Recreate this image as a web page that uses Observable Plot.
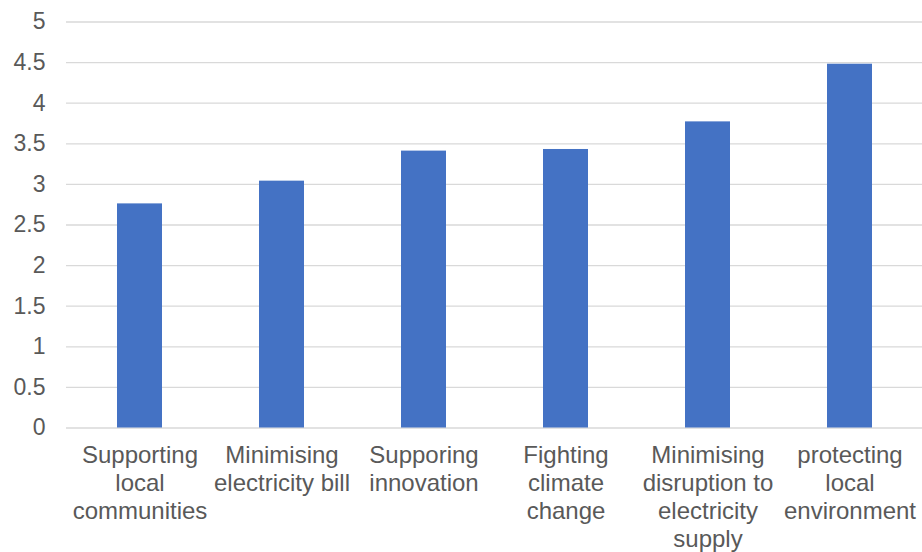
<!DOCTYPE html>
<html><head>
<meta charset="utf-8">
<script src="https://cdn.jsdelivr.net/npm/d3@7"></script>
<script src="https://cdn.jsdelivr.net/npm/@observablehq/plot@0.6"></script>
<style>body{margin:0;background:#fff}</style>
</head><body><div id="chart"></div>
<script>
const categories = ["Supporting local communities", "Minimising electricity bill", "Supporing innovation", "Fighting climate change", "Minimising disruption to electricity supply", "protecting local environment"];
const labels = ["Supporting\nlocal\ncommunities", "Minimising\nelectricity bill", "Supporing\ninnovation", "Fighting\nclimate\nchange", "Minimising\ndisruption to\nelectricity\nsupply", "protecting\nlocal\nenvironment"];
const values = [2.76, 3.04, 3.41, 3.43, 3.77, 4.48];
const yTicks = [0, 0.5, 1, 1.5, 2, 2.5, 3, 3.5, 4, 4.5, 5];

const data = categories.map((c, i) => ({category: c, value: values[i]}));

const chart = Plot.plot({
  width: 922, height: 552,
  marginTop: 21.5, marginBottom: 124.5, marginLeft: 66, marginRight: 0,
  style: {fontFamily: "'Liberation Sans', Arial, sans-serif", background: "#fff", overflow: "visible"},
  x: {domain: categories, paddingInner: 0.685, paddingOuter: 0.3425, label: null},
  y: {domain: [0, 5], label: null},
  marks: [
    Plot.gridY(yTicks, {stroke: "#d9d9d9", strokeOpacity: 1, strokeWidth: 1.3}),
    Plot.barY(data, {x: "category", y: "value", fill: "#4472c4"}),
    Plot.axisY(yTicks, {tickSize: 0, tickPadding: 21, fontSize: 23, fill: "#595959", label: null, tickFormat: d => String(d)}),
    Plot.axisX({tickSize: 0, tickPadding: 15.5, fontSize: 24, lineHeight: 1.167, fill: "#595959", label: null, tickFormat: c => labels[categories.indexOf(c)]})
  ]
});
document.getElementById("chart").append(chart);
</script>
</body></html>
